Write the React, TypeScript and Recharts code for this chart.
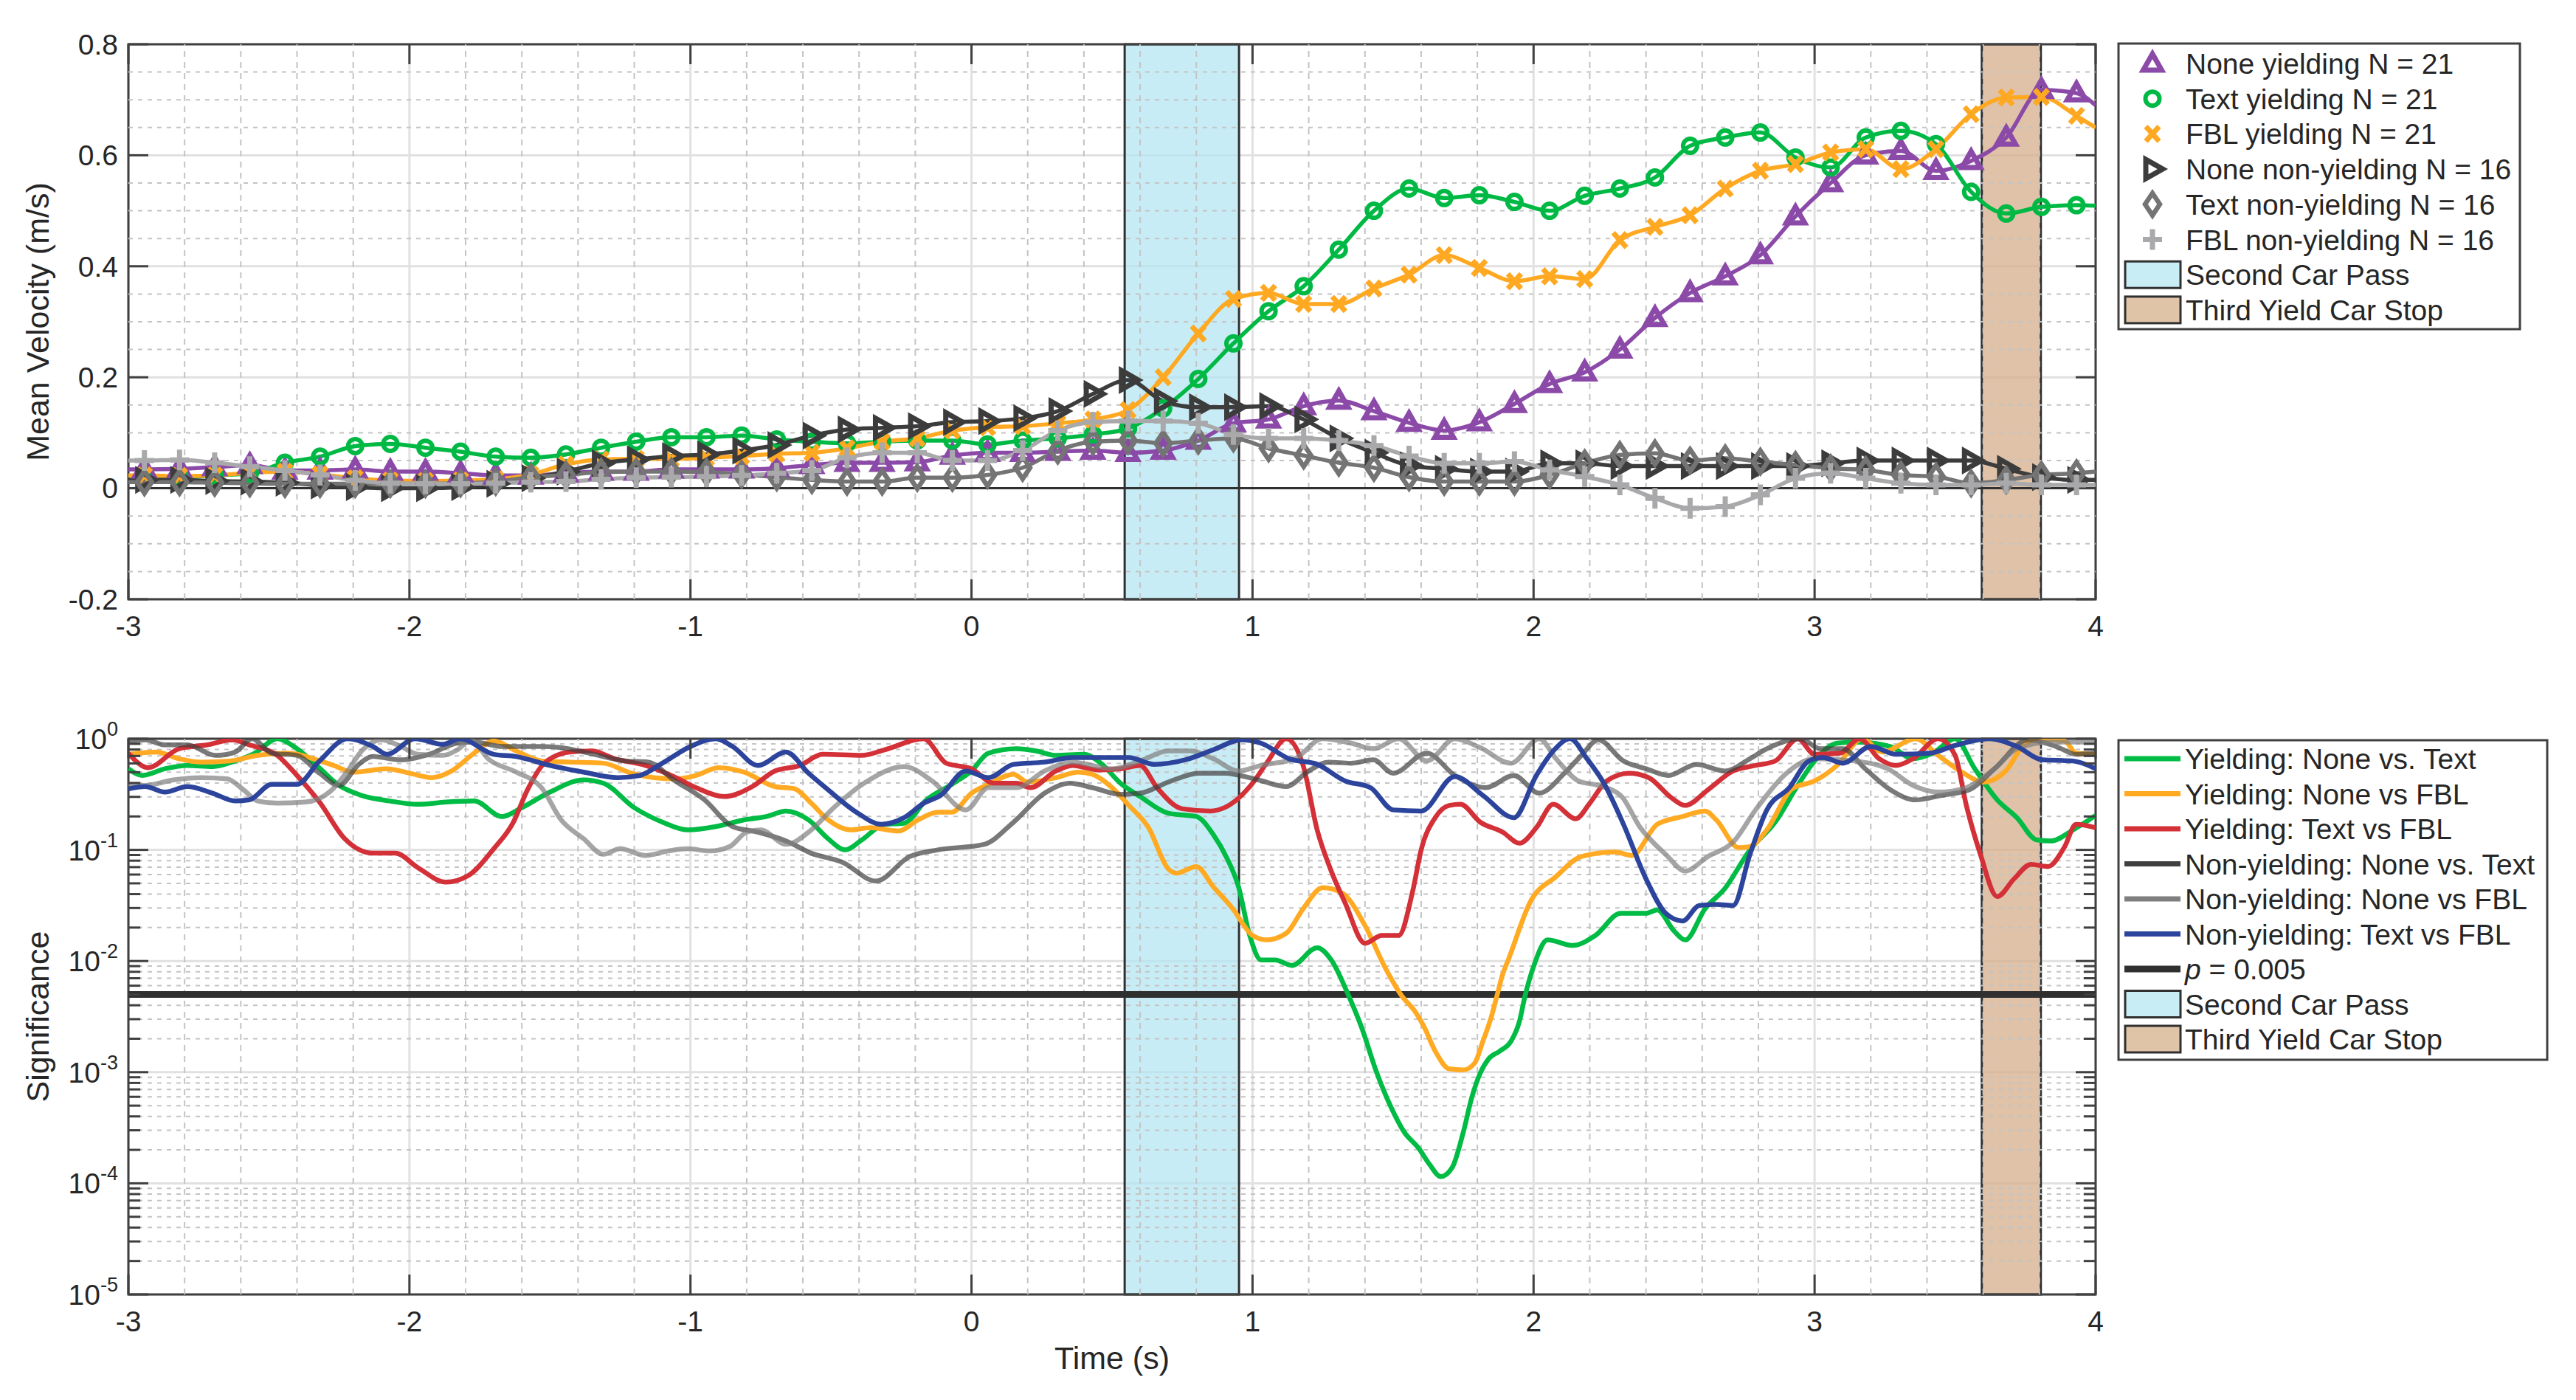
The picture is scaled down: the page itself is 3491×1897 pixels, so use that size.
import React from "react";
import { LineChart, Line, XAxis, YAxis, CartesianGrid, ReferenceLine, ReferenceArea } from "recharts";

const W = 3491;
const H = 1897;
const FONT = "'Liberation Sans', Arial, Helvetica, sans-serif";
const TEXT = "#262626";
const AX = "#404040";

// ---------- top panel data (mean velocity, m/s) ----------
// first and last entries are the window edges; the rest are the marker samples
const timeSteps = [-3, -2.943, -2.818, -2.693, -2.568, -2.443, -2.318, -2.193, -2.068, -1.943, -1.818, -1.693, -1.568, -1.443, -1.318, -1.193, -1.068, -0.943, -0.818, -0.693, -0.568, -0.443, -0.318, -0.193, -0.068, 0.057, 0.182, 0.307, 0.432, 0.557, 0.682, 0.807, 0.932, 1.057, 1.182, 1.307, 1.432, 1.557, 1.682, 1.807, 1.932, 2.057, 2.182, 2.307, 2.432, 2.557, 2.682, 2.807, 2.932, 3.057, 3.182, 3.307, 3.432, 3.557, 3.682, 3.807, 3.932, 4];

const noneYielding = [0.034, 0.034, 0.035, 0.038, 0.042, 0.032, 0.032, 0.034, 0.03, 0.03, 0.027, 0.023, 0.023, 0.027, 0.03, 0.03, 0.034, 0.034, 0.034, 0.036, 0.042, 0.046, 0.046, 0.047, 0.059, 0.064, 0.064, 0.066, 0.068, 0.064, 0.068, 0.086, 0.117, 0.124, 0.148, 0.158, 0.139, 0.118, 0.104, 0.119, 0.152, 0.188, 0.209, 0.25, 0.307, 0.352, 0.382, 0.42, 0.49, 0.55, 0.6, 0.608, 0.572, 0.59, 0.632, 0.718, 0.712, 0.69];
const textYielding = [0.015, 0.015, 0.019, 0.023, 0.027, 0.046, 0.057, 0.076, 0.08, 0.073, 0.066, 0.057, 0.055, 0.061, 0.073, 0.084, 0.092, 0.092, 0.095, 0.088, 0.084, 0.081, 0.084, 0.086, 0.086, 0.079, 0.086, 0.09, 0.097, 0.108, 0.144, 0.197, 0.261, 0.319, 0.364, 0.43, 0.5, 0.54, 0.523, 0.528, 0.516, 0.5, 0.527, 0.54, 0.56, 0.617, 0.632, 0.641, 0.596, 0.578, 0.632, 0.644, 0.62, 0.534, 0.495, 0.507, 0.51, 0.509];
const fblYielding = [0.023, 0.023, 0.022, 0.023, 0.028, 0.03, 0.025, 0.018, 0.014, 0.013, 0.014, 0.016, 0.025, 0.043, 0.052, 0.053, 0.053, 0.055, 0.058, 0.062, 0.064, 0.072, 0.084, 0.09, 0.104, 0.11, 0.112, 0.117, 0.124, 0.141, 0.2, 0.279, 0.341, 0.352, 0.332, 0.332, 0.36, 0.385, 0.42, 0.397, 0.373, 0.382, 0.377, 0.447, 0.471, 0.492, 0.54, 0.572, 0.584, 0.605, 0.611, 0.575, 0.611, 0.674, 0.704, 0.705, 0.671, 0.65];
const noneNonYielding = [0.015, 0.015, 0.015, 0.013, 0.012, 0.01, 0.005, 0.002, 0, 0, 0.002, 0.008, 0.018, 0.03, 0.045, 0.052, 0.058, 0.061, 0.068, 0.078, 0.095, 0.106, 0.109, 0.112, 0.119, 0.121, 0.126, 0.139, 0.17, 0.195, 0.157, 0.146, 0.146, 0.148, 0.124, 0.09, 0.064, 0.041, 0.035, 0.03, 0.03, 0.045, 0.045, 0.04, 0.04, 0.04, 0.04, 0.04, 0.04, 0.045, 0.05, 0.05, 0.05, 0.05, 0.035, 0.02, 0.015, 0.015];
const textNonYielding = [0.011, 0.011, 0.011, 0.01, 0.009, 0.008, 0.008, 0.008, 0.008, 0.008, 0.009, 0.012, 0.02, 0.024, 0.029, 0.03, 0.03, 0.029, 0.025, 0.02, 0.015, 0.012, 0.012, 0.019, 0.019, 0.024, 0.037, 0.068, 0.084, 0.086, 0.081, 0.086, 0.09, 0.072, 0.059, 0.046, 0.037, 0.02, 0.012, 0.012, 0.012, 0.024, 0.045, 0.06, 0.063, 0.05, 0.054, 0.048, 0.042, 0.036, 0.033, 0.024, 0.021, 0.009, 0.015, 0.024, 0.027, 0.03];
const fblNonYielding = [0.05, 0.05, 0.051, 0.046, 0.039, 0.032, 0.024, 0.014, 0.009, 0.008, 0.008, 0.009, 0.011, 0.012, 0.016, 0.019, 0.02, 0.021, 0.023, 0.027, 0.032, 0.055, 0.064, 0.064, 0.05, 0.05, 0.068, 0.104, 0.119, 0.121, 0.121, 0.117, 0.097, 0.09, 0.09, 0.086, 0.077, 0.058, 0.045, 0.045, 0.048, 0.033, 0.021, 0.006, -0.018, -0.036, -0.033, -0.012, 0.018, 0.027, 0.018, 0.009, 0.006, 0.006, 0.009, 0.006, 0.006, 0.006];

// ---------- bottom panel data: [time, log10(p)] ----------
const sigYieldNoneText: [number, number][] = [[-3, -0.27], [-2.95, -0.33], [-2.87, -0.27], [-2.79, -0.24], [-2.7, -0.25], [-2.62, -0.2], [-2.55, -0.13], [-2.47, 0], [-2.4, -0.09], [-2.33, -0.24], [-2.25, -0.42], [-2.17, -0.51], [-2.07, -0.56], [-1.97, -0.59], [-1.87, -0.57], [-1.77, -0.56], [-1.67, -0.7], [-1.6, -0.62], [-1.5, -0.48], [-1.38, -0.37], [-1.31, -0.4], [-1.2, -0.62], [-1.1, -0.75], [-1.01, -0.82], [-0.91, -0.79], [-0.81, -0.73], [-0.73, -0.7], [-0.66, -0.65], [-0.58, -0.73], [-0.51, -0.9], [-0.45, -1.0], [-0.39, -0.91], [-0.31, -0.77], [-0.24, -0.76], [-0.16, -0.55], [-0.07, -0.41], [0, -0.29], [0.06, -0.13], [0.16, -0.09], [0.23, -0.11], [0.3, -0.15], [0.4, -0.14], [0.46, -0.22], [0.53, -0.4], [0.6, -0.52], [0.7, -0.67], [0.8, -0.7], [0.86, -0.86], [0.91, -1.08], [0.95, -1.33], [0.99, -1.77], [1.03, -1.99], [1.08, -1.99], [1.14, -2.04], [1.23, -1.88], [1.28, -1.99], [1.34, -2.3], [1.39, -2.61], [1.44, -2.99], [1.49, -3.3], [1.54, -3.54], [1.59, -3.68], [1.63, -3.83], [1.67, -3.94], [1.71, -3.86], [1.75, -3.54], [1.78, -3.23], [1.81, -3.01], [1.84, -2.88], [1.88, -2.81], [1.92, -2.72], [1.95, -2.54], [1.97, -2.31], [2.0, -2.05], [2.05, -1.81], [2.14, -1.86], [2.22, -1.77], [2.31, -1.57], [2.4, -1.57], [2.44, -1.54], [2.5, -1.73], [2.54, -1.81], [2.61, -1.53], [2.68, -1.35], [2.77, -1.0], [2.86, -0.75], [2.94, -0.42], [3.0, -0.2], [3.08, -0.04], [3.15, -0.03], [3.27, -0.07], [3.35, -0.18], [3.42, -0.13], [3.5, 0], [3.57, -0.27], [3.65, -0.55], [3.72, -0.71], [3.79, -0.91], [3.84, -0.92], [3.92, -0.82], [4.0, -0.69]];
const sigYieldNoneFbl: [number, number][] = [[-3, -0.14], [-2.9, -0.12], [-2.82, -0.18], [-2.74, -0.21], [-2.64, -0.2], [-2.54, -0.15], [-2.43, -0.13], [-2.33, -0.19], [-2.27, -0.24], [-2.2, -0.3], [-2.08, -0.27], [-2.0, -0.31], [-1.92, -0.35], [-1.85, -0.29], [-1.77, -0.13], [-1.7, -0.02], [-1.62, -0.11], [-1.53, -0.2], [-1.43, -0.21], [-1.31, -0.22], [-1.21, -0.31], [-1.13, -0.35], [-1.05, -0.36], [-0.98, -0.33], [-0.9, -0.26], [-0.81, -0.3], [-0.7, -0.43], [-0.63, -0.45], [-0.57, -0.58], [-0.51, -0.73], [-0.43, -0.82], [-0.36, -0.8], [-0.26, -0.83], [-0.19, -0.73], [-0.12, -0.66], [-0.07, -0.66], [0, -0.49], [0.06, -0.41], [0.15, -0.32], [0.2, -0.39], [0.3, -0.35], [0.38, -0.3], [0.43, -0.32], [0.5, -0.44], [0.56, -0.6], [0.63, -0.8], [0.7, -1.17], [0.73, -1.21], [0.8, -1.15], [0.86, -1.33], [0.93, -1.53], [1.0, -1.77], [1.05, -1.81], [1.12, -1.75], [1.18, -1.53], [1.25, -1.34], [1.32, -1.39], [1.4, -1.68], [1.47, -2.05], [1.53, -2.31], [1.58, -2.46], [1.61, -2.59], [1.65, -2.81], [1.7, -2.97], [1.75, -2.98], [1.79, -2.92], [1.82, -2.72], [1.85, -2.5], [1.87, -2.31], [1.89, -2.12], [1.91, -1.99], [1.99, -1.46], [2.08, -1.24], [2.17, -1.06], [2.29, -1.02], [2.35, -1.05], [2.44, -0.77], [2.53, -0.7], [2.61, -0.65], [2.65, -0.73], [2.73, -0.98], [2.77, -0.97], [2.83, -0.82], [2.92, -0.45], [3.0, -0.38], [3.08, -0.24], [3.17, 0], [3.24, -0.12], [3.36, 0], [3.44, -0.15], [3.53, -0.31], [3.6, -0.39], [3.68, -0.29], [3.74, -0.07], [3.8, 0], [3.89, -0.02], [3.93, -0.13], [4.0, -0.14]];
const sigYieldTextFbl: [number, number][] = [[-3, -0.13], [-2.93, -0.26], [-2.82, -0.09], [-2.72, -0.055], [-2.63, -0.01], [-2.57, -0.055], [-2.47, -0.15], [-2.4, -0.33], [-2.32, -0.57], [-2.23, -0.9], [-2.13, -1.03], [-2.05, -1.03], [-1.97, -1.16], [-1.87, -1.29], [-1.79, -1.23], [-1.7, -0.99], [-1.63, -0.75], [-1.58, -0.46], [-1.52, -0.22], [-1.43, -0.12], [-1.35, -0.11], [-1.27, -0.18], [-1.16, -0.24], [-1.06, -0.34], [-0.98, -0.44], [-0.88, -0.52], [-0.78, -0.43], [-0.7, -0.29], [-0.61, -0.24], [-0.53, -0.14], [-0.39, -0.15], [-0.31, -0.1], [-0.17, 0], [-0.09, -0.22], [0, -0.27], [0.08, -0.4], [0.16, -0.4], [0.21, -0.44], [0.3, -0.29], [0.36, -0.24], [0.45, -0.28], [0.53, -0.27], [0.6, -0.24], [0.66, -0.44], [0.75, -0.63], [0.85, -0.65], [0.9, -0.62], [1.0, -0.4], [1.05, -0.22], [1.12, 0], [1.18, -0.24], [1.23, -0.82], [1.28, -1.19], [1.33, -1.48], [1.4, -1.84], [1.46, -1.77], [1.52, -1.77], [1.57, -1.37], [1.6, -1.0], [1.65, -0.71], [1.7, -0.6], [1.74, -0.59], [1.81, -0.75], [1.89, -0.84], [1.95, -0.94], [2.01, -0.8], [2.07, -0.59], [2.15, -0.72], [2.2, -0.58], [2.26, -0.38], [2.34, -0.31], [2.41, -0.35], [2.49, -0.53], [2.54, -0.6], [2.62, -0.46], [2.71, -0.29], [2.79, -0.24], [2.86, -0.2], [2.94, 0], [3.0, -0.14], [3.09, -0.13], [3.16, 0], [3.23, -0.18], [3.29, -0.24], [3.35, -0.18], [3.44, 0], [3.5, -0.15], [3.54, -0.6], [3.59, -1.04], [3.65, -1.42], [3.71, -1.26], [3.77, -1.13], [3.83, -1.15], [3.89, -0.97], [3.93, -0.77], [4.0, -0.8]];
const sigNonNoneText: [number, number][] = [[-3, -0.03], [-2.94, -0.01], [-2.87, -0.055], [-2.79, -0.055], [-2.69, -0.15], [-2.62, -0.12], [-2.56, 0], [-2.49, -0.13], [-2.4, -0.15], [-2.32, -0.31], [-2.25, -0.42], [-2.18, -0.23], [-2.13, -0.16], [-2.03, -0.19], [-1.93, -0.14], [-1.83, -0.04], [-1.77, -0.03], [-1.67, -0.07], [-1.53, -0.07], [-1.46, -0.08], [-1.36, -0.13], [-1.23, -0.2], [-1.15, -0.21], [-1.06, -0.37], [-0.95, -0.55], [-0.85, -0.79], [-0.76, -0.84], [-0.66, -0.92], [-0.57, -1.03], [-0.46, -1.11], [-0.34, -1.28], [-0.22, -1.06], [-0.12, -1.0], [0.045, -0.95], [0.15, -0.75], [0.26, -0.49], [0.35, -0.4], [0.43, -0.44], [0.53, -0.5], [0.6, -0.49], [0.7, -0.39], [0.81, -0.31], [0.9, -0.31], [1.02, -0.37], [1.12, -0.43], [1.2, -0.29], [1.27, -0.21], [1.35, -0.22], [1.43, -0.19], [1.5, -0.31], [1.62, -0.13], [1.72, -0.33], [1.83, -0.44], [1.93, -0.33], [2.02, -0.49], [2.11, -0.31], [2.17, -0.15], [2.23, -0.01], [2.32, -0.2], [2.4, -0.27], [2.48, -0.33], [2.58, -0.23], [2.68, -0.29], [2.77, -0.18], [2.83, -0.09], [2.95, 0], [3.02, -0.09], [3.1, -0.09], [3.18, -0.27], [3.27, -0.46], [3.36, -0.55], [3.45, -0.51], [3.55, -0.46], [3.64, -0.27], [3.76, -0.01], [3.86, -0.07], [3.93, -0.14], [4.0, -0.13]];
const sigNonNoneFbl: [number, number][] = [[-3, -0.41], [-2.94, -0.42], [-2.84, -0.37], [-2.74, -0.35], [-2.65, -0.36], [-2.59, -0.46], [-2.54, -0.56], [-2.47, -0.58], [-2.37, -0.57], [-2.28, -0.47], [-2.22, -0.29], [-2.17, -0.11], [-2.1, -0.01], [-2.03, -0.07], [-1.97, -0.14], [-1.88, -0.15], [-1.83, -0.1], [-1.78, -0.01], [-1.72, -0.18], [-1.62, -0.3], [-1.53, -0.44], [-1.46, -0.73], [-1.38, -0.9], [-1.31, -1.04], [-1.25, -0.99], [-1.16, -1.05], [-1.08, -1.01], [-1.01, -0.99], [-0.93, -1.01], [-0.86, -0.97], [-0.8, -0.84], [-0.75, -0.82], [-0.66, -0.95], [-0.57, -0.82], [-0.49, -0.62], [-0.37, -0.38], [-0.24, -0.25], [-0.14, -0.38], [-0.02, -0.64], [0.06, -0.44], [0.16, -0.44], [0.26, -0.29], [0.36, -0.21], [0.5, -0.27], [0.6, -0.2], [0.7, -0.11], [0.78, -0.11], [0.86, -0.18], [0.95, -0.29], [1.03, -0.24], [1.15, -0.18], [1.25, 0], [1.35, -0.04], [1.43, -0.09], [1.52, 0], [1.62, -0.2], [1.72, 0], [1.81, -0.08], [1.92, -0.22], [2.02, 0], [2.08, -0.18], [2.16, -0.38], [2.23, -0.42], [2.31, -0.51], [2.38, -0.8], [2.47, -1.04], [2.54, -1.19], [2.62, -1.06], [2.71, -0.93], [2.79, -0.64], [2.9, -0.31], [3.0, -0.18], [3.14, -0.2], [3.26, -0.27], [3.35, -0.42], [3.44, -0.48], [3.54, -0.44], [3.64, -0.27], [3.72, -0.09], [3.84, -0.03], [4.0, -0.03]];
const sigNonTextFbl: [number, number][] = [[-3, -0.45], [-2.94, -0.43], [-2.87, -0.48], [-2.79, -0.43], [-2.7, -0.49], [-2.62, -0.56], [-2.57, -0.55], [-2.49, -0.41], [-2.4, -0.41], [-2.32, -0.2], [-2.22, 0], [-2.13, -0.07], [-2.08, -0.14], [-1.98, 0], [-1.88, -0.05], [-1.82, 0], [-1.7, -0.14], [-1.62, -0.16], [-1.5, -0.24], [-1.38, -0.3], [-1.26, -0.35], [-1.18, -0.33], [-1.1, -0.22], [-1.0, -0.07], [-0.91, 0], [-0.85, -0.07], [-0.76, -0.24], [-0.66, -0.12], [-0.58, -0.31], [-0.51, -0.46], [-0.41, -0.66], [-0.32, -0.77], [-0.24, -0.71], [-0.17, -0.58], [-0.11, -0.51], [-0.02, -0.29], [0.06, -0.35], [0.15, -0.23], [0.26, -0.21], [0.36, -0.17], [0.46, -0.17], [0.56, -0.17], [0.65, -0.23], [0.76, -0.19], [0.86, -0.1], [0.96, -0.01], [1.03, -0.04], [1.13, -0.18], [1.23, -0.23], [1.33, -0.38], [1.42, -0.44], [1.5, -0.64], [1.6, -0.65], [1.72, -0.34], [1.82, -0.51], [1.93, -0.71], [2.01, -0.33], [2.07, -0.11], [2.13, 0], [2.19, -0.18], [2.25, -0.4], [2.32, -0.77], [2.4, -1.26], [2.47, -1.57], [2.53, -1.64], [2.59, -1.5], [2.65, -1.49], [2.71, -1.5], [2.77, -1.04], [2.83, -0.64], [2.91, -0.44], [2.98, -0.2], [3.03, -0.17], [3.1, -0.22], [3.2, -0.07], [3.29, -0.14], [3.41, -0.13], [3.5, -0.06], [3.62, 0], [3.72, -0.07], [3.81, -0.19], [3.92, -0.2], [4.0, -0.27]];

// ---------- axes / annotations ----------
const timeTicks = [-3, -2, -1, 0, 1, 2, 3, 4];
const velocityTicks = [-0.2, 0, 0.2, 0.4, 0.6, 0.8];
const sigTicks = [1e-5, 1e-4, 1e-3, 1e-2, 1e-1, 1];
const secondCarPass = [0.545, 0.952];
const thirdYieldStop = [3.595, 3.805];
const pThreshold = 0.005;

const topSeries = [
  { key: "noneY", name: "None yielding N = 21", values: noneYielding, color: "#8c4aa8", marker: "tri" },
  { key: "textY", name: "Text yielding N = 21", values: textYielding, color: "#00b944", marker: "circle" },
  { key: "fblY", name: "FBL yielding N = 21", values: fblYielding, color: "#ffa821", marker: "x" },
  { key: "noneN", name: "None non-yielding N = 16", values: noneNonYielding, color: "#3c3c3c", marker: "right" },
  { key: "textN", name: "Text non-yielding N = 16", values: textNonYielding, color: "#747474", marker: "diamond" },
  { key: "fblN", name: "FBL non-yielding N = 16", values: fblNonYielding, color: "#a9a9ab", marker: "plus" },
];

const sigSeries = [
  { key: "ynt", name: "Yielding: None vs. Text", points: sigYieldNoneText, color: "#00bb44", opacity: 1 },
  { key: "ynf", name: "Yielding: None vs FBL", points: sigYieldNoneFbl, color: "#ffaa22", opacity: 1 },
  { key: "ytf", name: "Yielding: Text vs FBL", points: sigYieldTextFbl, color: "#d33038", opacity: 1 },
  { key: "nnt", name: "Non-yielding: None vs. Text", points: sigNonNoneText, color: "#404040", opacity: 0.7 },
  { key: "nnf", name: "Non-yielding: None vs FBL", points: sigNonNoneFbl, color: "#7f7f7f", opacity: 0.7 },
  { key: "ntf", name: "Non-yielding: Text vs FBL", points: sigNonTextFbl, color: "#2c449c", opacity: 1 },
];

const topData = timeSteps.map((t, i) => {
  const row: any = { t };
  topSeries.forEach((s) => (row[s.key] = s.values[i]));
  return row;
});

// grid helpers (axis decoration only)
const timeMinor: number[] = [];
for (let k = -15; k <= 20; k++) if (k % 5 !== 0) timeMinor.push(k / 5);
const velMinor: number[] = [];
for (let k = -4; k <= 16; k++) if (k % 4 !== 0) velMinor.push(k / 20);
const sigMinor: number[] = [];
for (let d = -5; d <= -1; d++) for (let m = 2; m <= 9; m++) sigMinor.push(m * Math.pow(10, d));

function marker(kind: string, cx: number, cy: number, color: string, key?: string) {
  switch (kind) {
    case "tri":
      return <path key={key} d={`M${cx},${cy - 13} L${cx + 12.5},${cy + 9} L${cx - 12.5},${cy + 9} Z`} fill="none" stroke={color} strokeWidth={7} strokeLinejoin="miter" />;
    case "circle":
      return <circle key={key} cx={cx} cy={cy} r={9.5} fill="none" stroke={color} strokeWidth={6} />;
    case "x":
      return <path key={key} d={`M${cx - 9},${cy - 10} L${cx + 9},${cy + 10} M${cx - 9},${cy + 10} L${cx + 9},${cy - 10}`} stroke={color} strokeWidth={7} fill="none" />;
    case "right":
      return <path key={key} d={`M${cx + 14},${cy} L${cx - 9},${cy - 13} L${cx - 9},${cy + 13} Z`} fill="none" stroke={color} strokeWidth={7} strokeLinejoin="miter" />;
    case "diamond":
      return <path key={key} d={`M${cx},${cy - 15} L${cx + 10},${cy} L${cx},${cy + 15} L${cx - 10},${cy} Z`} fill="none" stroke={color} strokeWidth={6.5} />;
    case "plus":
    default:
      return <path key={key} d={`M${cx - 13},${cy} L${cx + 13},${cy} M${cx},${cy - 14} L${cx},${cy + 14}`} stroke={color} strokeWidth={7} fill="none" />;
  }
}

const LAST = timeSteps.length - 1;
const makeDot = (kind: string, color: string) => (props: any) => {
  const { cx, cy, index } = props;
  if (index === 0 || index === LAST || cx == null || cy == null || isNaN(cx) || isNaN(cy)) return <g key={`e-${kind}-${index}`} />;
  return marker(kind, cx, cy, color, `m-${kind}-${index}`);
};

const LogTick = (props: any) => {
  const { x, y, payload } = props;
  const exp = Math.round(Math.log10(payload.value));
  return (
    <text x={x} y={y + 14} textAnchor="end" fill={TEXT} fontSize={39} fontFamily={FONT}>
      <tspan>10</tspan>
      <tspan dy={-18} fontSize={27}>{String(exp)}</tspan>
    </text>
  );
};

const tickStyle = { fontSize: 39, fill: TEXT, fontFamily: FONT };
const PLOT_L = 174;
const PLOT_R = 2840;
const UNIT_X = (PLOT_R - PLOT_L) / 7;
const TLEN_X = 27 / UNIT_X; // inward tick length in time units
const TOP_T = 60;
const TOP_B = 812;
const TLEN_VEL = 27 / (TOP_B - TOP_T);
const BOT_T = 1001;
const BOT_B = 1754;
const DEC = (BOT_B - BOT_T) / 5; // px per decade

function TopChart() {
  return (
    <LineChart width={W} height={900} data={topData} margin={{ top: TOP_T, right: W - PLOT_R, bottom: 0, left: 0 }}>
      <CartesianGrid stroke="#e1e1e1" strokeWidth={3} />
      <XAxis type="number" dataKey="t" domain={[-3, 4]} ticks={timeTicks} allowDataOverflow tickLine={false} axisLine={false} tickSize={0} tickMargin={22} height={900 - TOP_B} tick={tickStyle} interval={0} />
      <YAxis type="number" domain={[-0.2, 0.8]} ticks={velocityTicks} allowDataOverflow tickLine={false} axisLine={false} tickSize={0} tickMargin={14} width={PLOT_L} tick={tickStyle} interval={0} tickFormatter={(v: number) => String(Math.round(v * 10) / 10)} />
      {timeMinor.map((v) => (
        <ReferenceLine key={`tv${v}`} x={v} stroke="#c4c4c4" strokeWidth={2} strokeDasharray="8 7" />
      ))}
      {velMinor.map((v) => (
        <ReferenceLine key={`th${v}`} y={v} stroke="#c4c4c4" strokeWidth={2} strokeDasharray="6 7" />
      ))}
      <ReferenceArea x1={secondCarPass[0]} x2={secondCarPass[1]} y1={-0.2} y2={0.8} fill="#b3e5f1" fillOpacity={0.72} stroke="#303030" strokeWidth={3} />
      <ReferenceArea x1={thirdYieldStop[0]} x2={thirdYieldStop[1]} y1={-0.2} y2={0.8} fill="#d4ae8a" fillOpacity={0.75} stroke="#303030" strokeWidth={3} />
      <ReferenceLine y={0} stroke="#303030" strokeWidth={3} />
      {topSeries.map((s) => (
        <Line key={s.key} type="monotone" dataKey={s.key} stroke={s.color} strokeWidth={5.5} dot={makeDot(s.marker, s.color)} activeDot={false} isAnimationActive={false} />
      ))}
      {timeTicks.map((t) => (
        <ReferenceLine key={`bx${t}`} segment={[{ x: t, y: -0.2 }, { x: t, y: -0.2 + TLEN_VEL }]} stroke={AX} strokeWidth={3} />
      ))}
      {timeTicks.map((t) => (
        <ReferenceLine key={`tx${t}`} segment={[{ x: t, y: 0.8 }, { x: t, y: 0.8 - TLEN_VEL }]} stroke={AX} strokeWidth={3} />
      ))}
      {velocityTicks.map((v) => (
        <ReferenceLine key={`ly${v}`} segment={[{ x: -3, y: v }, { x: -3 + TLEN_X, y: v }]} stroke={AX} strokeWidth={3} />
      ))}
      {velocityTicks.map((v) => (
        <ReferenceLine key={`ry${v}`} segment={[{ x: 4, y: v }, { x: 4 - TLEN_X, y: v }]} stroke={AX} strokeWidth={3} />
      ))}
      <ReferenceArea x1={-3} x2={4} y1={-0.2} y2={0.8} fill="none" fillOpacity={0} stroke={AX} strokeWidth={3} />
    </LineChart>
  );
}

function BottomChart() {
  const majLen = Math.pow(10, 27 / DEC);
  const top = BOT_T - 60;
  return (
    <LineChart width={W} height={900} margin={{ top: 60, right: W - PLOT_R, bottom: 0, left: 0 }}>
      <CartesianGrid stroke="#e1e1e1" strokeWidth={3} />
      <XAxis type="number" dataKey="t" domain={[-3, 4]} ticks={timeTicks} allowDataOverflow tickLine={false} axisLine={false} tickSize={0} tickMargin={22} height={top + 900 - BOT_B} tick={tickStyle} interval={0} />
      <YAxis type="number" scale="log" domain={[1e-5, 1]} ticks={sigTicks} allowDataOverflow tickLine={false} axisLine={false} tickSize={0} tickMargin={14} width={PLOT_L} tick={<LogTick />} interval={0} />
      {timeMinor.map((v) => (
        <ReferenceLine key={`bv${v}`} x={v} stroke="#c4c4c4" strokeWidth={2} strokeDasharray="8 7" />
      ))}
      {sigMinor.map((v) => (
        <ReferenceLine key={`bh${v}`} y={v} stroke="#c4c4c4" strokeWidth={2} strokeDasharray="6 7" />
      ))}
      <ReferenceArea x1={secondCarPass[0]} x2={secondCarPass[1]} y1={1e-5} y2={1} fill="#b3e5f1" fillOpacity={0.72} stroke="#303030" strokeWidth={3} />
      <ReferenceArea x1={thirdYieldStop[0]} x2={thirdYieldStop[1]} y1={1e-5} y2={1} fill="#d4ae8a" fillOpacity={0.75} stroke="#303030" strokeWidth={3} />
      <ReferenceLine y={pThreshold} stroke="#303030" strokeWidth={9} />
      {sigSeries.map((s) => (
        <Line key={s.key} data={s.points.map(([t, lp]) => ({ t, p: Math.pow(10, lp) }))} type="monotone" dataKey="p" stroke={s.color} strokeOpacity={s.opacity} strokeWidth={6.5} dot={false} activeDot={false} isAnimationActive={false} />
      ))}
      {timeTicks.map((t) => (
        <ReferenceLine key={`bbx${t}`} segment={[{ x: t, y: 1e-5 }, { x: t, y: 1e-5 * majLen }]} stroke={AX} strokeWidth={3} />
      ))}
      {timeTicks.map((t) => (
        <ReferenceLine key={`btx${t}`} segment={[{ x: t, y: 1 }, { x: t, y: 1 / majLen }]} stroke={AX} strokeWidth={3} />
      ))}
      {sigTicks.map((v) => (
        <ReferenceLine key={`bly${v}`} segment={[{ x: -3, y: v }, { x: -3 + TLEN_X, y: v }]} stroke={AX} strokeWidth={3} />
      ))}
      {sigTicks.map((v) => (
        <ReferenceLine key={`bry${v}`} segment={[{ x: 4, y: v }, { x: 4 - TLEN_X, y: v }]} stroke={AX} strokeWidth={3} />
      ))}
      {sigMinor.map((v) => (
        <ReferenceLine key={`bmly${v}`} segment={[{ x: -3, y: v }, { x: -3 + TLEN_X * 0.6, y: v }]} stroke={AX} strokeWidth={3} />
      ))}
      {sigMinor.map((v) => (
        <ReferenceLine key={`bmry${v}`} segment={[{ x: 4, y: v }, { x: 4 - TLEN_X * 0.6, y: v }]} stroke={AX} strokeWidth={3} />
      ))}
      <ReferenceArea x1={-3} x2={4} y1={1e-5} y2={1} fill="none" fillOpacity={0} stroke={AX} strokeWidth={3} />
    </LineChart>
  );
}

function Overlay() {
  const tl = { x: 2871, y: 59, w: 544, h: 387, row0: 86, step: 47.7 };
  const bl = { x: 2871, y: 1003, w: 581, h: 433, row0: 1028, step: 47.5 };
  const textProps = { fontSize: 39, fill: TEXT, fontFamily: FONT };
  const topMid = (TOP_T + TOP_B) / 2;
  const botMid = (BOT_T + BOT_B) / 2;
  return (
    <svg width={W} height={H} style={{ position: "absolute", left: 0, top: 0, pointerEvents: "none" }}>
      {/* axis labels */}
      <text x={51} y={topMid} transform={`rotate(-90 51 ${topMid})`} textAnchor="middle" dominantBaseline="central" fontSize={43} fill={TEXT} fontFamily={FONT}>Mean Velocity (m/s)</text>
      <text x={51} y={botMid} transform={`rotate(-90 51 ${botMid})`} textAnchor="middle" dominantBaseline="central" fontSize={43} fill={TEXT} fontFamily={FONT}>Significance</text>
      <text x={1507} y={1840} textAnchor="middle" dominantBaseline="central" fontSize={43} fill={TEXT} fontFamily={FONT}>Time (s)</text>

      {/* top legend */}
      <rect x={tl.x} y={tl.y} width={tl.w} height={tl.h} fill="#ffffff" stroke={AX} strokeWidth={3} />
      {topSeries.map((s, i) => {
        const cy = tl.row0 + i * tl.step;
        return (
          <g key={`tlg${s.key}`}>
            {marker(s.marker, 2917, cy, s.color)}
            <text x={2962} y={cy} dy="0.36em" {...textProps}>{s.name}</text>
          </g>
        );
      })}
      {[
        { name: "Second Car Pass", fill: "#c8edf5" },
        { name: "Third Yield Car Stop", fill: "#dfc4a7" },
      ].map((p, j) => {
        const cy = tl.row0 + (6 + j) * tl.step;
        return (
          <g key={`tlp${j}`}>
            <rect x={2880} y={cy - 18} width={75} height={36} fill={p.fill} stroke="#303030" strokeWidth={3} />
            <text x={2962} y={cy} dy="0.36em" {...textProps}>{p.name}</text>
          </g>
        );
      })}

      {/* bottom legend */}
      <rect x={bl.x} y={bl.y} width={bl.w} height={bl.h} fill="#ffffff" stroke={AX} strokeWidth={3} />
      {sigSeries.map((s, i) => {
        const cy = bl.row0 + i * bl.step;
        return (
          <g key={`blg${s.key}`}>
            <line x1={2879} x2={2955} y1={cy} y2={cy} stroke={s.color} strokeWidth={7} />
            <text x={2961} y={cy} dy="0.36em" {...textProps}>{s.name}</text>
          </g>
        );
      })}
      {(() => {
        const cy = bl.row0 + 6 * bl.step;
        return (
          <g>
            <line x1={2879} x2={2955} y1={cy} y2={cy} stroke="#303030" strokeWidth={9} />
            <text x={2961} y={cy} dy="0.36em" {...textProps}>
              <tspan fontStyle="italic">p</tspan>
              <tspan> = 0.005</tspan>
            </text>
          </g>
        );
      })()}
      {[
        { name: "Second Car Pass", fill: "#c8edf5" },
        { name: "Third Yield Car Stop", fill: "#dfc4a7" },
      ].map((p, j) => {
        const cy = bl.row0 + (7 + j) * bl.step;
        return (
          <g key={`blp${j}`}>
            <rect x={2880} y={cy - 18} width={75} height={36} fill={p.fill} stroke="#303030" strokeWidth={3} />
            <text x={2961} y={cy} dy="0.36em" {...textProps}>{p.name}</text>
          </g>
        );
      })}
    </svg>
  );
}

export default function App() {
  return (
    <div style={{ position: "absolute", left: 0, top: 0, width: W, height: H, background: "#ffffff", fontFamily: FONT, overflow: "hidden" }}>
      <div style={{ position: "absolute", left: 0, top: 0 }}>
        <TopChart />
      </div>
      <div style={{ position: "absolute", left: 0, top: BOT_T - 60 }}>
        <BottomChart />
      </div>
      <Overlay />
    </div>
  );
}
